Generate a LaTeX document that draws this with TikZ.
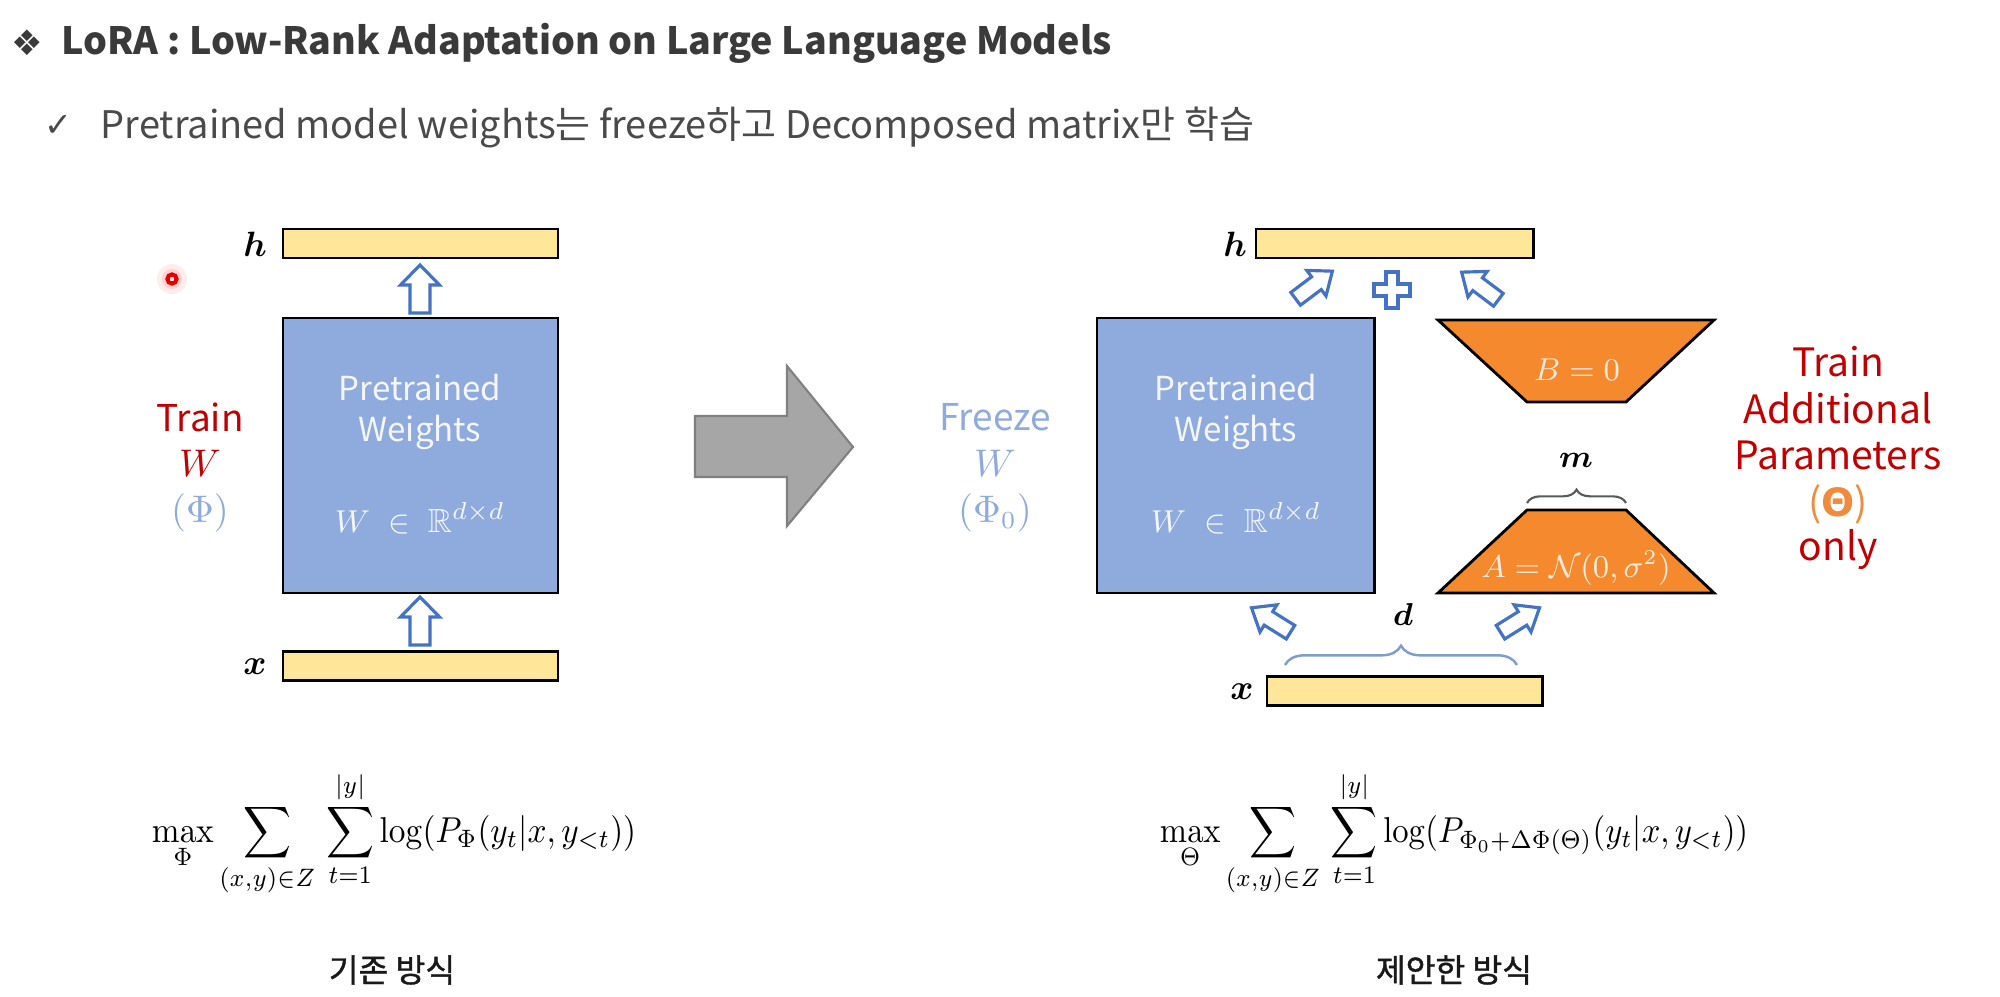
\documentclass[tikz,border=0pt]{standalone}
\usepackage{amsmath,amssymb}
\usepackage{bm}
\usepackage{graphicx}
\usepackage[no-math]{fontspec}
\setmainfont{Noto Sans CJK KR}
\setsansfont{Noto Sans CJK KR}
\newfontfamily\symfont{DejaVu Sans}
\newfontfamily\captfont{Noto Sans CJK KR}[FakeBold=1.2]
\usetikzlibrary{decorations.pathreplacing}
\definecolor{wblue}{HTML}{8FAADC}
\definecolor{wyellow}{HTML}{FFE699}
\definecolor{worange}{HTML}{F4892E}
\definecolor{wred}{HTML}{C00000}
\definecolor{abl}{HTML}{4472C4}
\definecolor{tgray}{HTML}{3A3A3A}
\definecolor{sgray}{HTML}{4A4A4A}
\definecolor{lorange}{HTML}{F08A3C}
\definecolor{dbrace}{HTML}{7F9BD0}
\definecolor{arrgray}{HTML}{A6A6A6}
\definecolor{arrgrayd}{HTML}{808080}
\definecolor{wtxt}{HTML}{F4F6FB}
\definecolor{otxt}{HTML}{FDEBDC}
\begin{document}
\begin{tikzpicture}[x=0.01cm,y=-0.01cm,
  ybar/.style={draw=black, line width=0.8pt, fill=wyellow, minimum width=2.75cm, minimum height=0.29cm, inner sep=0pt},
  wbox/.style={draw=black, line width=0.8pt, fill=wblue, minimum width=2.75cm, minimum height=2.75cm, inner sep=0pt},
  trap/.style={draw=black, line width=0.8pt, fill=worange, line join=miter},
  barr/.style={draw=abl, line width=0.9pt, fill=white, line join=miter},
  vlbl/.style={font=\fontsize{10pt}{12pt}\selectfont, inner sep=0pt},
  sidel/.style={font=\fontsize{10.5pt}{13pt}\selectfont, inner sep=0pt},
  sider/.style={font=\fontsize{11.1pt}{13pt}\selectfont, inner sep=0pt},
  wtext/.style={text=wtxt, font=\fontsize{9.4pt}{11.4pt}\selectfont, align=center, inner sep=0pt},
  otext/.style={text=otxt, font=\fontsize{9pt}{11pt}\selectfont, inner sep=0pt},
  capt/.style={font=\captfont\fontsize{9.2pt}{10pt}\selectfont, text=black!90, inner sep=0pt},
  pics/barrowS/.style={code={\draw[barr] (-23,-8) -- (3,-8) -- (3,-16) -- (23,0) -- (3,16) -- (3,8) -- (-23,8) -- cycle;}},
  pics/barrowL/.style={code={\draw[barr] (-24,-10) -- (4,-10) -- (4,-19.5) -- (24,0) -- (4,19.5) -- (4,10) -- (-24,10) -- cycle;}},
  pics/plussign/.style={code={\draw[barr] (-6,-18) -- (6,-18) -- (6,-6) -- (18,-6) -- (18,6) -- (6,6) -- (6,18) -- (-6,18) -- (-6,6) -- (-18,6) -- (-18,-6) -- (-6,-6) -- cycle;}}
]
\useasboundingbox (0,0) rectangle (2000,997);

% ---- title ----
\node[font=\symfont\fontsize{10pt}{12pt}\selectfont, text=tgray, inner sep=0pt] (dia) at (27,43) {❖};
\node[anchor=west, font=\bfseries\fontsize{10.7pt}{12pt}\selectfont, text=tgray, inner sep=0pt] (title) at (61,43) {LoRA : Low-Rank Adaptation on Large Language Models};
\node[font=\symfont\fontsize{9.5pt}{11pt}\selectfont, text=sgray, inner sep=0pt] (chk) at (58,126) {✓};
\node[anchor=west, font=\fontsize{10.8pt}{12pt}\selectfont, text=sgray, inner sep=0pt] (sub) at (100,127) {Pretrained model weights는 freeze하고 Decomposed matrix만 학습};

% ---- laser dot ----
\fill[red!7] (172,279) circle (15);
\fill[red!18] (172,279) circle (10);
\draw[red!90!black, line width=1.2pt] (172,279) circle (4.5);
\fill[red!10] (172,279) circle (2.2);

% ---- left panel ----
\node[ybar] (hL) at (420.5,243.5) {};
\node[wbox] (WL) at (420.5,455.5) {};
\node[ybar] (xL) at (420.5,666) {};
\node[vlbl] (hLl) at (255,244) {$\bm{h}$};
\node[vlbl] (xLl) at (255,667) {$\bm{x}$};
\node[wtext] (ptL) at (420,412) {Pretrained\\Weights};
\node[text=wtxt, font=\fontsize{9.5pt}{11pt}\selectfont, inner sep=0pt] (WLm) at (420,518) {$W \;\in\; \mathbb{R}^{d\times d}$};
\node[sidel, text=wred] (trL) at (200,417) {Train};
\node[sidel, text=wred] (wL) at (200,463) {$W$};
\node[sidel, text=wblue] (phL) at (200,513) {$(\Phi)$};
\pic[rotate=90] (aLt) at (420,289) {barrowL};
\pic[rotate=90] (aLb) at (420,621) {barrowL};

% ---- big gray arrow ----
\draw[fill=arrgray, draw=arrgrayd, line width=0.6pt, line join=miter]
  (695,416) -- (787,416) -- (787,366) -- (853,447) -- (787,526) -- (787,477) -- (695,477) -- cycle;

% ---- right panel ----
\node[ybar, minimum width=2.77cm] (hR) at (1394.5,243.5) {};
\node[wbox, minimum width=2.77cm] (WR) at (1235.5,455.5) {};
\node[ybar] (xR) at (1404.5,691) {};
\node[vlbl] (hRl) at (1235,244) {$\bm{h}$};
\node[vlbl] (xRl) at (1242,692) {$\bm{x}$};
\node[wtext] (ptR) at (1236,412) {Pretrained\\Weights};
\node[text=wtxt, font=\fontsize{9.5pt}{11pt}\selectfont, inner sep=0pt] (WRm) at (1236,518) {$W \;\in\; \mathbb{R}^{d\times d}$};
\node[sidel, text=wblue] (frR) at (995,417) {Freeze};
\node[sidel, text=wblue] (wR) at (995,463) {$W$};
\node[sidel, text=wblue] (phR) at (995,513) {$(\Phi_0)$};

\draw[trap] (1438,320) -- (1714,320) -- (1626,402) -- (1527,402) -- cycle;
\draw[trap] (1527,510) -- (1626,510) -- (1714,593) -- (1438,593) -- cycle;
\node[otext] (Bt) at (1577,370) {$B = 0$};
\node[otext] (At) at (1576,568) {$A = \mathcal{N}(0,\sigma^2)$};

\draw[decorate, decoration={brace, amplitude=3.8pt}, draw=black!65, line width=0.6pt] (1527,503) -- (1626,503);
\node[vlbl, font=\fontsize{9.5pt}{11pt}\selectfont] (mlab) at (1576,460) {$\bm{m}$};
\draw[decorate, decoration={brace, amplitude=5.5pt}, draw=dbrace, line width=0.7pt] (1285,665) -- (1517,665);
\node[vlbl, font=\fontsize{9.5pt}{11pt}\selectfont] (dlab) at (1403,615) {$\bm{d}$};

\pic[rotate=37] (aRtl) at (1314,285) {barrowS};
\pic (plus) at (1392,290) {plussign};
\pic[rotate=143] (aRtr) at (1480,286) {barrowS};
\pic[rotate=148] (aRbl) at (1271,620) {barrowS};
\pic[rotate=32] (aRbr) at (1520,620) {barrowS};

\node[sider, text=wred] (t1) at (1838,362) {Train};
\node[sider, text=wred] (t2) at (1838,408) {Additional};
\node[sider, text=wred] (t3) at (1838,455) {Parameters};
\node[sider, text=lorange] (t4) at (1838,504) {(\textbf{\symfont Θ})};
\node[sider, text=wred] (t5) at (1838,550) {only};

% ---- formulas ----
\node[inner sep=0pt] (fL) at (394,834) {\resizebox*{4.84cm}{1.25cm}{$\displaystyle \max_{\Phi}\sum_{(x,y)\in Z}\,\sum_{t=1}^{|y|} \log(P_{\Phi}(y_t|x,y_{<t}))$}};
\node[inner sep=0pt] (fR) at (1454,834) {\resizebox*{5.88cm}{1.25cm}{$\displaystyle \max_{\Theta}\sum_{(x,y)\in Z}\,\sum_{t=1}^{|y|} \log(P_{\Phi_0+\Delta\Phi(\Theta)}(y_t|x,y_{<t}))$}};
\node[capt] (cL) at (392,970) {기존 방식};
\node[capt] (cR) at (1454,970) {제안한 방식};
\end{tikzpicture}
\end{document}
